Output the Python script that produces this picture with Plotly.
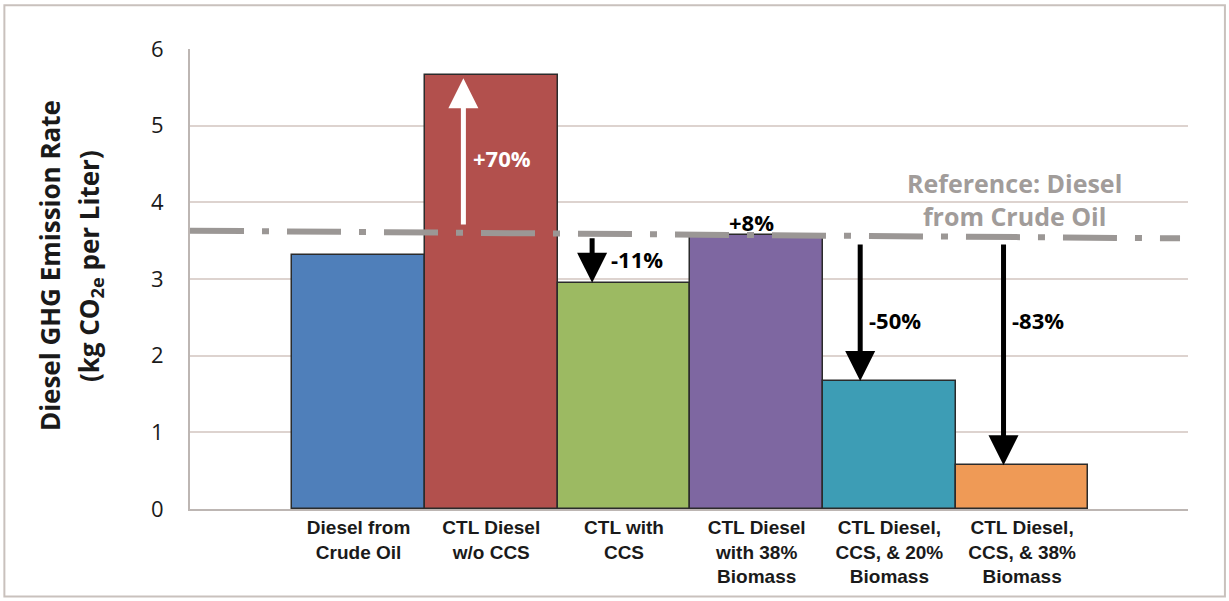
import plotly.graph_objects as go

# Diesel GHG emission rate by production pathway
categories = [
    "Diesel from<br>Crude Oil",
    "CTL Diesel<br>w/o CCS",
    "CTL with<br>CCS",
    "CTL Diesel<br>with 38%<br>Biomass",
    "CTL Diesel,<br>CCS, & 20%<br>Biomass",
    "CTL Diesel,<br>CCS, & 38%<br>Biomass",
]
emissions = [3.31, 5.66, 2.95, 3.58, 1.67, 0.57]
bar_colors = ["#4f7fba", "#b2504d", "#9cba62", "#7e67a1", "#3d9db5", "#ef9a56"]

# Reference level (crude-oil diesel) drawn as a dash-dot line
reference_start, reference_end = 3.63, 3.53

# Change labels relative to the reference, with arrow positions
change_labels = ["+70%", "-11%", "+8%", "-50%", "-83%"]
change_label_x = [1.08, 2.10, 2.96, 4.04, 5.12]
change_label_y = [4.58, 3.26, 3.74, 2.47, 2.47]
arrow_x = [0.79, 1.76, 3.78, 4.86]
arrow_from = [3.69, 3.55, 3.47, 3.47]
arrow_to = [emissions[1] - 0.04, emissions[2], emissions[4], emissions[5]]
arrow_colors = ["white", "black", "black", "black"]
label_colors = ["white", "black", "black", "black", "black"]

y_title_lines = ["Diesel GHG Emission Rate", "(kg CO<sub>2e</sub> per Liter)"]

x_pos = list(range(len(categories)))

fig = go.Figure()
fig.add_trace(go.Bar(
    x=x_pos,
    y=emissions,
    width=1.0,
    marker=dict(color=bar_colors, line=dict(color="#2b2b2b", width=1.5)),
    hoverinfo="y",
))

fig.add_shape(
    type="line", xref="paper", yref="y",
    x0=0.0, x1=0.992, y0=reference_start, y1=reference_end,
    line=dict(color="#9b9795", width=6, dash="54px,18px,7px,18px"),
)

# Light frame around the whole chart
fig.add_shape(
    type="rect", xref="paper", yref="paper",
    x0=-0.186, x1=1.037, y0=-0.19, y1=1.095,
    line=dict(color="#c9c1bd", width=2), layer="below",
)

for i, xa in enumerate(arrow_x):
    fig.add_annotation(
        x=xa, y=arrow_to[i], ax=xa, ay=arrow_from[i],
        xref="x", yref="y", axref="x", ayref="y",
        text="", showarrow=True, arrowhead=2, arrowsize=1.2,
        arrowwidth=5, arrowcolor=arrow_colors[i], standoff=0,
    )

for i, lab in enumerate(change_labels):
    fig.add_annotation(
        x=change_label_x[i], y=change_label_y[i], xref="x", yref="y",
        text=f"<b>{lab}</b>", showarrow=False,
        font=dict(family="Open Sans, sans-serif", size=22, color=label_colors[i]),
    )

fig.add_annotation(
    x=4.94, y=4.04, xref="x", yref="y",
    text="<b>Reference: Diesel<br>from Crude Oil</b>", showarrow=False,
    font=dict(family="Open Sans, sans-serif", size=25, color="#a19c9a"),
)

# Two-line y-axis title
for line_text, px_x in zip(y_title_lines, [50, 90]):
    fig.add_annotation(
        x=(px_x - 190) / 998, y=0.528, xref="paper", yref="paper",
        xanchor="center", yanchor="middle",
        text=f"<b>{line_text}</b>", textangle=-90, showarrow=False,
        font=dict(family="Open Sans, sans-serif", size=26, color="#1a1a1a"),
    )

fig.update_layout(
    width=1229, height=601,
    margin=dict(l=190, r=41, t=49, b=92),
    paper_bgcolor="white", plot_bgcolor="white",
    showlegend=False, bargap=0,
    font=dict(family="Open Sans, sans-serif", color="#1a1a1a"),
)
fig.update_xaxes(
    range=[-1.27, 6.25],
    tickmode="array", tickvals=x_pos, ticktext=[f"<b>{c}</b>" for c in categories],
    tickfont=dict(family="Liberation Sans Narrow, Arial Narrow, sans-serif", size=19, color="#1a1a1a"),
    showline=True, linecolor="#bdb6b3", linewidth=2,
    showgrid=False, ticks="",
)
fig.update_yaxes(
    range=[0, 6], dtick=1,
    tickfont=dict(family="Open Sans, sans-serif", size=22, color="#1a1a1a"),
    showline=True, linecolor="#bdb6b3", linewidth=2,
    showgrid=True, gridcolor="#ddd3cf", gridwidth=2,
    zeroline=False, ticks="", ticklabelstandoff=20,
)

fig.write_html("out.html")
